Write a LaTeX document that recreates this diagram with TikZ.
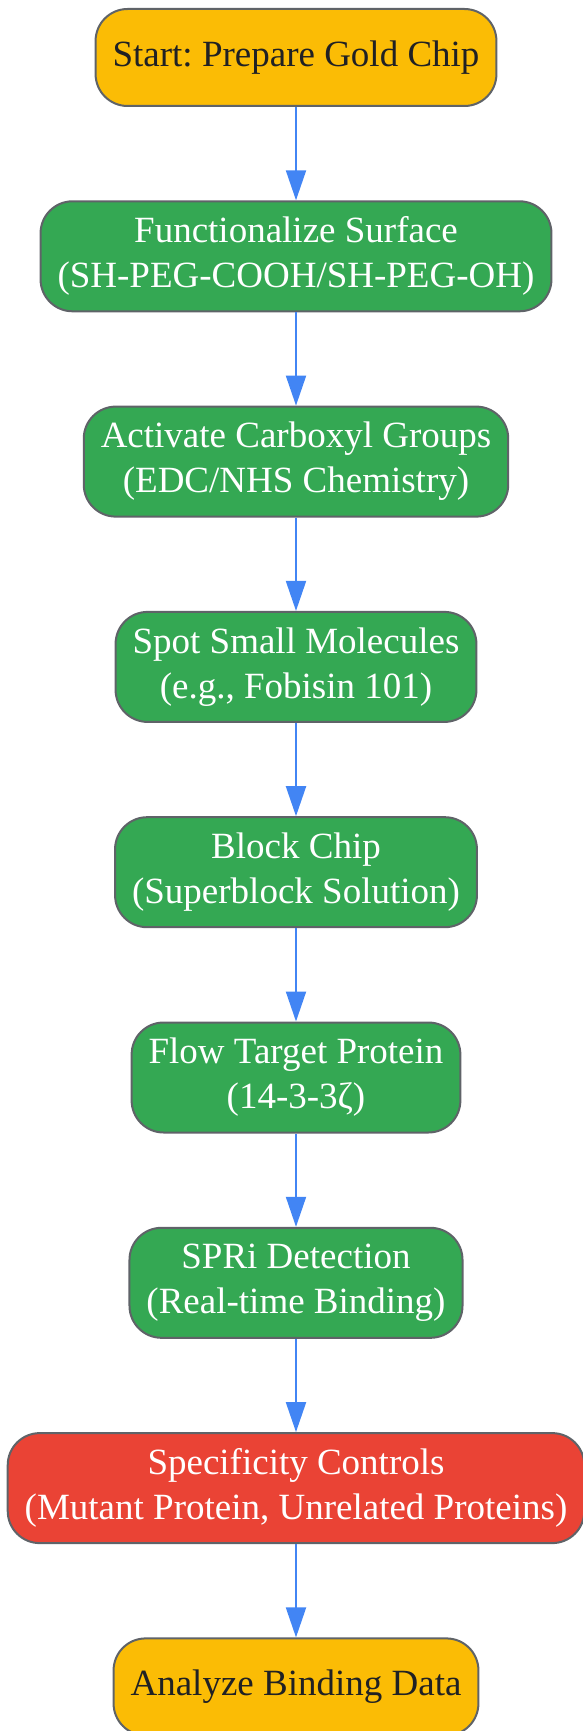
\documentclass[tikz,border=0pt]{standalone}
\usepackage{fontspec}
\setmainfont{Liberation Serif}
\frenchspacing
\usetikzlibrary{positioning,arrows.meta}
\definecolor{gyellow}{HTML}{FBBC05}
\definecolor{ggreen}{HTML}{34A853}
\definecolor{gred}{HTML}{EA4335}
\definecolor{gblue}{HTML}{4285F4}
\definecolor{gborder}{HTML}{5F6368}
\definecolor{gtext}{HTML}{202124}
\tikzset{
  stepbox/.style={draw=gborder, line width=2pt, rounded corners=32pt, align=center,
    inner xsep=17pt, inner ysep=0pt, minimum height=110pt, fill=ggreen, text=white,
    font=\fontsize{37}{45}\selectfont},
  endbox/.style={stepbox, fill=gyellow, text=gtext, minimum height=97pt},
  ctrlbox/.style={stepbox, fill=gred},
  flow/.style={draw=gblue, line width=2pt, -{Triangle[length=30pt,width=20pt]}}
}
\begin{document}
\begin{tikzpicture}[node distance=93.3pt]
\useasboundingbox (0,0) rectangle (582pt,-1731pt);
\node[endbox] (start) at (296pt,-57.5pt) {Start: Prepare Gold Chip};
\node[stepbox, below=of start] (func) {Functionalize Surface\\(SH-PEG-COOH/SH-PEG-OH)};
\node[stepbox, below=of func] (activ) {Activate Carboxyl Groups\\(EDC/NHS Chemistry)};
\node[stepbox, below=of activ] (spot) {Spot Small Molecules\\(e.g., Fobisin 101)};
\node[stepbox, below=of spot] (block) {Block Chip\\(Superblock Solution)};
\node[stepbox, below=of block] (target) {Flow Target Protein\\(14-3-3ζ)};
\node[stepbox, below=of target] (spri) {SPRi Detection\\(Real-time Binding)};
\node[ctrlbox, below=of spri] (ctrl) {Specificity Controls\\(Mutant Protein, Unrelated Proteins)};
\node[endbox, below=of ctrl] (analyze) {Analyze Binding Data};
% arrows
\draw[flow] (start) -- (func);
\draw[flow] (func) -- (activ);
\draw[flow] (activ) -- (spot);
\draw[flow] (spot) -- (block);
\draw[flow] (block) -- (target);
\draw[flow] (target) -- (spri);
\draw[flow] (spri) -- (ctrl);
\draw[flow] (ctrl) -- (analyze);
\end{tikzpicture}
\end{document}
